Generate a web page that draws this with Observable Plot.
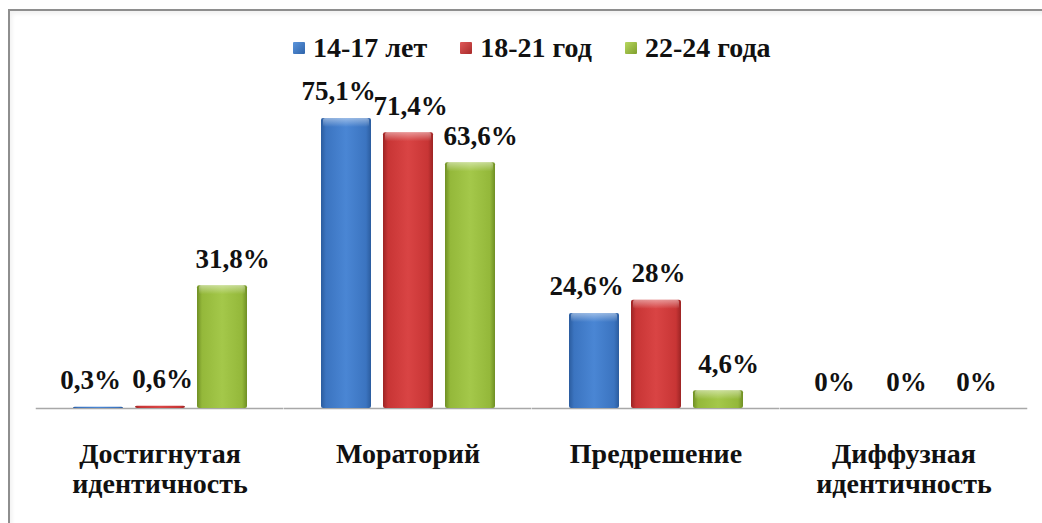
<!DOCTYPE html>
<html>
<head>
<meta charset="utf-8">
<script src="https://cdn.jsdelivr.net/npm/d3@7"></script>
<script src="https://cdn.jsdelivr.net/npm/@observablehq/plot@0.6"></script>
<style>
  html, body { margin: 0; padding: 0; background: #fff; overflow: hidden; width: 1042px; height: 523px; }
  #frame { position: absolute; left: 8px; top: 9px; width: 1100px; height: 600px; border: 2px solid #8e8e8e; box-shadow: inset 2px 3px 4px rgba(0,0,0,0.06); pointer-events: none; }
  #legend { position: absolute; left: 0; top: 0; width: 1042px; height: 70px; display: flex; align-items: center; justify-content: flex-start; padding-left: 293px; box-sizing: border-box; font-weight: bold; font-size: 28px; color: #111; padding-top: 26px; }
  #legend .item { display: flex; align-items: center; margin-right: 33px; }
  #legend .sw { width: 12px; height: 12px; margin-right: 8px; border-radius: 1px; }
  #chart { position: absolute; left: 0; top: 70px; }
</style>
</head>
<body>
<svg width="0" height="0" style="position:absolute">
  <defs>
    <linearGradient id="gBlue" x1="0" x2="1" y1="0" y2="0">
      <stop offset="0" stop-color="#2b5c9e"/>
      <stop offset="0.1" stop-color="#3b74c0"/>
      <stop offset="0.5" stop-color="#4a86d4"/>
      <stop offset="0.9" stop-color="#3b74c0"/>
      <stop offset="1" stop-color="#2b5c9e"/>
    </linearGradient>
    <linearGradient id="gRed" x1="0" x2="1" y1="0" y2="0">
      <stop offset="0" stop-color="#9c2424"/>
      <stop offset="0.1" stop-color="#c83535"/>
      <stop offset="0.5" stop-color="#d94444"/>
      <stop offset="0.9" stop-color="#c83535"/>
      <stop offset="1" stop-color="#9c2424"/>
    </linearGradient>
    <linearGradient id="gGreen" x1="0" x2="1" y1="0" y2="0">
      <stop offset="0" stop-color="#6f8f24"/>
      <stop offset="0.1" stop-color="#94b83a"/>
      <stop offset="0.5" stop-color="#a4c84a"/>
      <stop offset="0.9" stop-color="#94b83a"/>
      <stop offset="1" stop-color="#6f8f24"/>
    </linearGradient>
    <linearGradient id="gHi" x1="0" x2="0" y1="0" y2="1">
      <stop offset="0" stop-color="#fff" stop-opacity="0.45"/>
      <stop offset="1" stop-color="#fff" stop-opacity="0"/>
    </linearGradient>
  </defs>
</svg>
<div id="frame"></div>
<div id="legend"></div>
<div id="chart"></div>
<script>
const categories = ["Достигнутая\nидентичность", "Мораторий", "Предрешение", "Диффузная\nидентичность"];
const series = ["14-17 лет", "18-21 год", "22-24 года"];
const values1417 = [0.3, 75.1, 24.6, 0];
const values1821 = [0.6, 71.4, 28, 0];
const values2224 = [31.8, 63.6, 4.6, 0];

const seriesValues = [values1417, values1821, values2224];
const gradients = ["url(#gBlue)", "url(#gRed)", "url(#gGreen)"];
const swatchCss = [
  "linear-gradient(135deg,#5b95dc,#2f64aa)",
  "linear-gradient(135deg,#e05a5a,#a82a2a)",
  "linear-gradient(135deg,#b8d860,#7f9f2c)"
];
const labelDx = [-8, 2, 10];
const serifFont = "'Liberation Serif', 'Times New Roman', serif";

const data = [];
series.forEach((s, i) => categories.forEach((c, j) => data.push({category: c, series: s, value: seriesValues[i][j]})));
const fmt = v => String(v).replace(".", ",") + "%";

// legend
const legend = document.getElementById("legend");
legend.style.setProperty("font-family", serifFont, "important");
series.forEach((s, i) => {
  const it = document.createElement("div");
  it.className = "item";
  const sw = document.createElement("span");
  sw.className = "sw";
  sw.style.background = swatchCss[i];
  const tx = document.createElement("span");
  tx.textContent = s;
  it.appendChild(sw); it.appendChild(tx);
  legend.appendChild(it);
});

const plot = Plot.plot({
  width: 1042,
  height: 453,
  marginLeft: 36,
  marginRight: 14,
  marginTop: 29,
  marginBottom: 115,
  style: {fontFamily: serifFont, fontWeight: "bold", color: "#111", background: "transparent", overflow: "visible"},
  fx: {domain: categories, paddingInner: 0.244, paddingOuter: 0.122, label: null, axis: null},
  x: {domain: series, paddingInner: 0.2, paddingOuter: 0.1, axis: null},
  y: {domain: [0, 80], axis: null},
  color: {domain: series, range: gradients},
  marks: [
    Plot.ruleY([0], {stroke: "#a8a8a8", strokeWidth: 1.5, insetLeft: -30.25, insetRight: -30.25}),
    Plot.barY(data, {fx: "category", x: "series", y: "value", fill: "series", rx: 2}),
    Plot.barY(data.filter(d => d.value > 3), {fx: "category", x: "series", y1: "value", y2: "value", insetBottom: -9, insetLeft: 2, insetRight: 2, fill: "url(#gHi)", rx: 2}),
    ...series.map((s, i) => Plot.text(data.filter(d => d.series === s), {
      fx: "category", x: "series", y: "value", text: d => fmt(d.value),
      lineAnchor: "bottom", dy: -18, dx: labelDx[i], fontSize: 27, fontWeight: "bold", fill: "#111"
    })),
    Plot.axisFx({anchor: "bottom", tickSize: 0, tickPadding: 33, fontSize: 28, fontWeight: "bold", lineHeight: 1.07, fill: "#111", label: null})
  ]
});
document.getElementById("chart").appendChild(plot);
</script>
</body>
</html>
